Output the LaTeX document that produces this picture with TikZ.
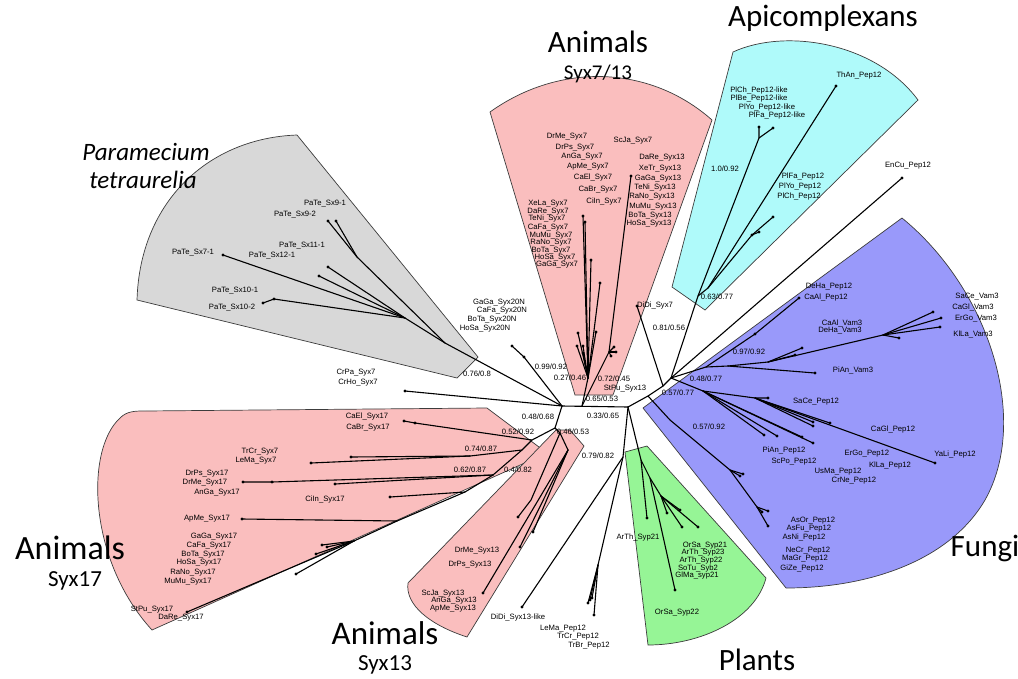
\documentclass[tikz,border=0pt]{standalone}
\usepackage{fontspec}
\setmainfont{Liberation Sans}
\newfontfamily\titlefont{Carlito}
\definecolor{pinkfill}{RGB}{250,190,190}
\definecolor{cyanfill}{RGB}{175,250,250}
\definecolor{grayfill}{RGB}{216,216,216}
\definecolor{bluefill}{RGB}{153,153,250}
\definecolor{greenfill}{RGB}{150,245,150}
\definecolor{edgegray}{RGB}{60,60,60}
\begin{document}
\begin{tikzpicture}[x=1pt,y=-1pt,
  branch/.style={line width=1.1pt, line cap=round, line join=round},
  region/.style={draw=edgegray, line width=0.7pt},
  lbl/.style={font=\fontsize{7.7}{9}\selectfont, inner sep=0pt},
  bigtitle/.style={font=\titlefont\fontsize{31}{36}\selectfont, inner sep=0pt},
  subtitle/.style={font=\titlefont\fontsize{21}{24}\selectfont, inner sep=0pt},
  ittitle/.style={font=\titlefont\itshape\fontsize{25}{28}\selectfont, inner sep=0pt}]
\useasboundingbox (0,0) rectangle (1018,678);

% ---------- clade backgrounds ----------
\filldraw[region, fill=grayfill] (137,300) -- (457,378) -- (478,357) -- (297,135)
  .. controls (210,138) and (140,200) .. (137,300) -- cycle;
\filldraw[region, fill=pinkfill] (575,395) -- (490,112)
  .. controls (560,62) and (650,65) .. (712,120) -- (613,395) -- cycle;
\filldraw[region, fill=cyanfill] (672,287) -- (733,52)
  .. controls (785,28) and (875,42) .. (918,100) -- (705,310) -- cycle;
\filldraw[region, fill=bluefill] (643,408) -- (902,218)
  .. controls (990,290) and (1030,420) .. (985,500)
  .. controls (950,560) and (870,588) .. (786,588) -- cycle;
\filldraw[region, fill=greenfill] (625,452) -- (647,446) -- (766,578)
  .. controls (755,620) and (700,645) .. (648,645) -- cycle;
\filldraw[region, fill=pinkfill] (487,408) -- (547,453) -- (152,630)
  .. controls (88,560) and (85,450) .. (120,418)
  .. controls (127,411) and (135,411) .. (145,411) -- cycle;
\filldraw[region, fill=pinkfill] (556,430) -- (570,430) -- (584,446) -- (467,637)
  .. controls (430,625) and (405,605) .. (408,583) -- cycle;

% ---------- tree nodes ----------
% backbone
\coordinate (A) at (562,406);  \coordinate (P7) at (582,406);
\coordinate (C) at (628,407);  \coordinate (D) at (555,428);
\coordinate (Q) at (648,396);  \coordinate (E) at (663,386);
\coordinate (F) at (671,378);
% Paramecium
\coordinate (G) at (445,343);  \coordinate (H) at (405,318);
\coordinate (pS71) at (223,255); \coordinate (pS10a) at (274,299);
\coordinate (pS10b) at (263,303); \coordinate (pS11) at (328,267);
\coordinate (pS12) at (319,276); \coordinate (N9) at (357,257);
\coordinate (pS92) at (328,221); \coordinate (pS91) at (336,221);
% Syx20N and CrPa
\coordinate (Z1) at (524,357); \coordinate (z20) at (512,346);
\coordinate (cr) at (405,391);
% Syx7
\coordinate (S7) at (588,378);
\coordinate (t1) at (583,216); \coordinate (t2) at (585,222);
\coordinate (t3) at (591,260); \coordinate (t4) at (600,283);
\coordinate (t5) at (596,332);
\coordinate (c1) at (578,333); \coordinate (c2) at (577,346);
\coordinate (c3) at (583,346); \coordinate (c4) at (583,353);
% Syx13
\coordinate (S13) at (609,352); \coordinate (u1) at (631,176);
\coordinate (u2) at (614,347); \coordinate (u3) at (616,352);
\coordinate (u4) at (611,356);
% DiDi Syx7
\coordinate (dd7) at (637,306);
% Apicomplexa
\coordinate (Ap0) at (698,296); \coordinate (Ap1) at (708,288);
\coordinate (Ap2) at (759,138); \coordinate (ap21) at (759,127);
\coordinate (ap22) at (773,128); \coordinate (than) at (836,86);
\coordinate (Ap3) at (752,235); \coordinate (ap31) at (759,232);
\coordinate (ap32) at (773,217);
\coordinate (encu) at (902,178);
% Fungi, Vam3 side
\coordinate (U1) at (706,367); \coordinate (U2) at (755,334);
\coordinate (cal) at (799,298); \coordinate (U3) at (728,366);
\coordinate (pianv) at (815,373); \coordinate (U4) at (768,362);
\coordinate (v1) at (802,348); \coordinate (v2) at (795,355);
\coordinate (U5) at (883,335); \coordinate (v3) at (933,312);
\coordinate (v4) at (941,318); \coordinate (v5) at (940,327);
\coordinate (v6) at (899,338);
% Fungi, Pep12 side
\coordinate (L1) at (703,391); \coordinate (L2) at (755,398);
\coordinate (sace) at (768,398); \coordinate (f1) at (830,423);
\coordinate (f2) at (813,422); \coordinate (f3) at (813,426);
\coordinate (yali) at (935,463);
\coordinate (g1) at (764,435); \coordinate (g2) at (777,436);
\coordinate (g3) at (813,443); \coordinate (g4) at (802,437);
\coordinate (A1) at (670,420); \coordinate (A2) at (730,470);
\coordinate (a1) at (740,476); \coordinate (a2) at (743,474);
\coordinate (A3) at (757,507); \coordinate (a3) at (768,511);
\coordinate (a4) at (762,512); \coordinate (a5) at (768,526);
% Plants
\coordinate (Pl0) at (641,460); \coordinate (arth21) at (647,518);
\coordinate (Pl1) at (650,478); \coordinate (orsa22) at (675,590);
\coordinate (Pl2) at (661,496); \coordinate (pl1) at (667,513);
\coordinate (pl2) at (680,510); \coordinate (pl3) at (682,527);
\coordinate (pl4) at (698,527);
% DiDi Syx13-like and Pep12 of trypanosomatids
\coordinate (M) at (623,457); \coordinate (dd13) at (522,607);
\coordinate (L0) at (598,565); \coordinate (lm1) at (588,603);
\coordinate (lm2) at (590,600); \coordinate (lm3) at (592,598);
\coordinate (lm4) at (594,615);
% Syx13
\coordinate (Y0) at (560,433); \coordinate (Y01) at (531,500);
\coordinate (s131) at (518,517); \coordinate (Y1) at (568,450);
\coordinate (s132) at (520,547); \coordinate (s133) at (533,532);
\coordinate (s134) at (483,593);
% Syx17
\coordinate (X0) at (532,440); \coordinate (ce1) at (415,423);
\coordinate (ce2) at (404,421); \coordinate (X1) at (522,450);
\coordinate (T1) at (470,456); \coordinate (tr1) at (351,457);
\coordinate (tr2) at (311,463); \coordinate (Dg1) at (493,475);
\coordinate (Dg2) at (465,492); \coordinate (Dg3) at (397,521);
\coordinate (Dg4) at (354,541); \coordinate (stpu) at (187,612);
\coordinate (dr1) at (272,482); \coordinate (dr2) at (243,482);
\coordinate (ang) at (335,484); \coordinate (ciin) at (390,497);
\coordinate (apme) at (242,519);
\coordinate (m1) at (322,545); \coordinate (m2) at (327,547);
\coordinate (m3) at (316,554); \coordinate (m4) at (296,574);

% ---------- branches ----------
\draw[branch] (A) -- (C);
\draw[branch] (A) -- (D);
\draw[branch] (C) -- (Q) -- (E) -- (F);
\draw[branch] (A) -- (G);
\draw[branch] (G) -- (H) -- (pS71);
\draw[branch] (H) -- (pS10a) -- (pS10b);
\draw[branch] (H) -- (pS11);
\draw[branch] (H) -- (pS12);
\draw[branch] (G) -- (N9) -- (pS92);
\draw[branch] (N9) -- (pS91);
\draw[branch] (A) -- (Z1) -- (z20);
\draw[branch] (A) -- (cr);
\draw[branch] (P7) -- (S7);
\foreach \t in {t1,t2,t3,t4,t5,c1,c2,c3,c4} \draw[branch] (S7) -- (\t);
\draw[branch] (P7) -- (S13) -- (u1);
\foreach \t in {u2,u3,u4} \draw[branch] (S13) -- (\t);
\draw[branch] (E) -- (dd7);
\draw[branch] (F) -- (Ap0) -- (Ap2) -- (ap21);
\draw[branch] (Ap2) -- (ap22);
\draw[branch] (Ap0) -- (Ap1) -- (than);
\draw[branch] (Ap1) -- (Ap3) -- (ap32);
\draw[branch] (Ap3) -- (ap31);
\draw[branch] (F) -- (encu);
\draw[branch] (F) -- (U1) -- (U2) -- (cal);
\draw[branch] (U1) -- (U3) -- (pianv);
\draw[branch] (U3) -- (U4) -- (v1);
\draw[branch] (U4) -- (v2);
\draw[branch] (U4) -- (U5);
\foreach \t in {v3,v4,v5,v6} \draw[branch] (U5) -- (\t);
\draw[branch] (F) -- (L1) -- (L2) -- (sace);
\foreach \t in {f1,f2,f3,yali} \draw[branch] (L2) -- (\t);
\foreach \t in {g1,g2,g3,g4} \draw[branch] (L1) -- (\t);
\draw[branch] (Q) -- (A1) -- (A2) -- (a1);
\draw[branch] (A2) -- (a2);
\draw[branch] (A2) -- (A3);
\foreach \t in {a3,a4,a5} \draw[branch] (A3) -- (\t);
\draw[branch] (C) -- (Pl0) -- (arth21);
\draw[branch] (Pl0) -- (Pl1) -- (orsa22);
\draw[branch] (Pl1) -- (Pl2);
\foreach \t in {pl1,pl2,pl3,pl4} \draw[branch] (Pl2) -- (\t);
\draw[branch] (C) -- (M) -- (dd13);
\draw[branch] (M) -- (L0);
\foreach \t in {lm1,lm2,lm3,lm4} \draw[branch] (L0) -- (\t);
\draw[branch] (D) -- (Y0) -- (Y01) -- (s131);
\draw[branch] (Y0) -- (Y1);
\foreach \t in {s132,s133,s134} \draw[branch] (Y1) -- (\t);
\draw[branch] (D) -- (X0) -- (ce1) -- (ce2);
\draw[branch] (X0) -- (X1) -- (T1) -- (tr1);
\draw[branch] (T1) -- (tr2);
\draw[branch] (X1) -- (Dg1) -- (Dg2) -- (Dg3) -- (Dg4) -- (stpu);
\draw[branch] (Dg1) -- (dr1) -- (dr2);
\draw[branch] (Dg1) -- (ang);
\draw[branch] (Dg2) -- (ciin);
\draw[branch] (Dg3) -- (apme);
\foreach \t in {m1,m2,m3,m4} \draw[branch] (Dg4) -- (\t);

% ---------- leaf dots ----------
\foreach \t in {pS71,pS10a,pS10b,pS11,pS12,pS92,pS91,z20,Z1,cr,
  t1,t2,t3,t4,t5,c1,c2,c3,c4,u1,u2,u3,u4,dd7,ap21,ap22,than,Ap3,ap31,ap32,
  encu,cal,U2,pianv,v1,v2,v3,v4,v5,v6,sace,f1,f2,f3,yali,g1,g2,g3,g4,
  a1,a2,a3,a4,a5,arth21,orsa22,pl1,pl2,pl3,pl4,dd13,lm1,lm2,lm3,lm4,
  s131,s132,s133,s134,ce1,ce2,tr1,tr2,dr1,dr2,ang,ciin,apme,stpu,m1,m2,m3,m4}
  \fill (\t) circle (1.7);

% ---------- clade titles ----------
\node[bigtitle] (ttop) at (598,42) {Animals};
\node[subtitle] (ttopsub) at (598,74) {Syx7/13};
\node[bigtitle] (tapi) at (823,18) {Apicomplexans};
\node[ittitle] (tpar1) at (146,152) {Paramecium};
\node[ittitle] (tpar2) at (143,180) {tetraurelia};
\node[bigtitle, font=\titlefont\fontsize{34}{38}\selectfont] (tleft) at (70,548) {Animals};
\node[subtitle, font=\titlefont\fontsize{23}{26}\selectfont] (tleftsub) at (75,581) {Syx17};
\node[bigtitle, font=\titlefont\fontsize{33}{38}\selectfont] (tbot) at (385,633) {Animals};
\node[subtitle, font=\titlefont\fontsize{23}{26}\selectfont] (tbotsub) at (385,665) {Syx13};
\node[bigtitle] (tpla) at (757,660) {Plants};
\node[bigtitle] (tfun) at (985,548) {Fungi};

% ---------- leaf labels ----------
% Paramecium
\node[lbl] (n1) at (325,204) {PaTe\_Sx9-1};
\node[lbl] (n2) at (295,215) {PaTe\_Sx9-2};
\node[lbl] (n3) at (302,246) {PaTe\_Sx11-1};
\node[lbl] (n4) at (272,256) {PaTe\_Sx12-1};
\node[lbl] (n5) at (193,253) {PaTe\_Sx7-1};
\node[lbl] (n6) at (235,291) {PaTe\_Sx10-1};
\node[lbl] (n7) at (232,308) {PaTe\_Sx10-2};
% Syx20N, CrPa
\node[lbl] (n8) at (499,303) {GaGa\_Syx20N};
\node[lbl] (n9) at (502,311) {CaFa\_Syx20N};
\node[lbl] (n10) at (492,320) {BoTa\_Syx20N};
\node[lbl] (n11) at (485,329) {HoSa\_Syx20N};
\node[lbl] (n12) at (356,373) {CrPa\_Syx7};
\node[lbl] (n13) at (358,383) {CrHo\_Syx7};
% Syx7
\node[lbl] (n14) at (567,137) {DrMe\_Syx7};
\node[lbl] (n15) at (575,148) {DrPs\_Syx7};
\node[lbl] (n16) at (582,157) {AnGa\_Syx7};
\node[lbl] (n17) at (588,167) {ApMe\_Syx7};
\node[lbl] (n18) at (593,178) {CaEl\_Syx7};
\node[lbl] (n19) at (598,190) {CaBr\_Syx7};
\node[lbl] (n20) at (604,202) {CiIn\_Syx7};
\node[lbl] (n21) at (633,141) {ScJa\_Syx7};
\node[lbl] (n22) at (548,204) {XeLa\_Syx7};
\node[lbl] (n23) at (548,212) {DaRe\_Syx7};
\node[lbl] (n24) at (547,219) {TeNi\_Syx7};
\node[lbl] (n25) at (548,228) {CaFa\_Syx7};
\node[lbl] (n26) at (551,236) {MuMu\_Syx7};
\node[lbl] (n27) at (551,243) {RaNo\_Syx7};
\node[lbl] (n28) at (551,251) {BoTa\_Syx7};
\node[lbl] (n29) at (555,258) {HoSa\_Syx7};
\node[lbl] (n30) at (557,265) {GaGa\_Syx7};
% Syx13 (top)
\node[lbl] (n31) at (662,158) {DaRe\_Syx13};
\node[lbl] (n32) at (660,169) {XeTr\_Syx13};
\node[lbl] (n33) at (658,179) {GaGa\_Syx13};
\node[lbl] (n34) at (655,188) {TeNi\_Syx13};
\node[lbl] (n35) at (652,197) {RaNo\_Syx13};
\node[lbl] (n36) at (653,207) {MuMu\_Syx13};
\node[lbl] (n37) at (650,216) {BoTa\_Syx13};
\node[lbl] (n38) at (649,224) {HoSa\_Syx13};
\node[lbl] (n39) at (625,389) {StPu\_Syx13};
\node[lbl] (n40) at (655,306) {DiDi\_Syx7};
% Apicomplexa
\node[lbl] (n41) at (759,91) {PlCh\_Pep12-like};
\node[lbl] (n42) at (759,99) {PlBe\_Pep12-like};
\node[lbl] (n43) at (767,108) {PlYo\_Pep12-like};
\node[lbl] (n44) at (777,116) {PlFa\_Pep12-like};
\node[lbl] (n45) at (859,76) {ThAn\_Pep12};
\node[lbl] (n46) at (803,177) {PlFa\_Pep12};
\node[lbl] (n47) at (800,187) {PlYo\_Pep12};
\node[lbl] (n48) at (799,197) {PlCh\_Pep12};
\node[lbl] (n49) at (908,166) {EnCu\_Pep12};
% Fungi
\node[lbl] (n50) at (829,287) {DeHa\_Pep12};
\node[lbl] (n51) at (826,298) {CaAl\_Pep12};
\node[lbl] (n52) at (977,297) {SaCe\_Vam3};
\node[lbl] (n53) at (973,307) {CaGl\_Vam3};
\node[lbl] (n54) at (976,319) {ErGo\_Vam3};
\node[lbl] (n55) at (973,334) {KlLa\_Vam3};
\node[lbl] (n56) at (842,323) {CaAl\_Vam3};
\node[lbl] (n57) at (840,331) {DeHa\_Vam3};
\node[lbl] (n58) at (853,370) {PiAn\_Vam3};
\node[lbl] (n59) at (816,402) {SaCe\_Pep12};
\node[lbl] (n60) at (893,430) {CaGl\_Pep12};
\node[lbl] (n61) at (784,451) {PiAn\_Pep12};
\node[lbl] (n62) at (794,462) {ScPo\_Pep12};
\node[lbl] (n63) at (867,454) {ErGo\_Pep12};
\node[lbl] (n64) at (890,466) {KlLa\_Pep12};
\node[lbl] (n65) at (838,472) {UsMa\_Pep12};
\node[lbl] (n66) at (854,481) {CrNe\_Pep12};
\node[lbl] (n67) at (955,455) {YaLi\_Pep12};
\node[lbl] (n68) at (813,521) {AsOr\_Pep12};
\node[lbl] (n69) at (809,529) {AsFu\_Pep12};
\node[lbl] (n70) at (804,538) {AsNi\_Pep12};
\node[lbl] (n71) at (808,551) {NeCr\_Pep12};
\node[lbl] (n72) at (805,559) {MaGr\_Pep12};
\node[lbl] (n73) at (802,569) {GiZe\_Pep12};
% Plants
\node[lbl] (n74) at (638,538) {ArTh\_Syp21};
\node[lbl] (n75) at (705,546) {OrSa\_Syp21};
\node[lbl] (n76) at (703,553) {ArTh\_Syp23};
\node[lbl] (n77) at (701,561) {ArTh\_Syp22};
\node[lbl] (n78) at (698,569) {SoTu\_Syb2};
\node[lbl] (n79) at (697,576) {GlMa\_syp21};
\node[lbl] (n80) at (677,613) {OrSa\_Syp22};
% bottom
\node[lbl] (n81) at (518,618) {DiDi\_Syx13-like};
\node[lbl] (n82) at (563,629) {LeMa\_Pep12};
\node[lbl] (n83) at (578,637) {TrCr\_Pep12};
\node[lbl] (n84) at (589,646) {TrBr\_Pep12};
\node[lbl] (n85) at (477,551) {DrMe\_Syx13};
\node[lbl] (n86) at (470,565) {DrPs\_Syx13};
\node[lbl] (n87) at (443,594) {ScJa\_Syx13};
\node[lbl] (n88) at (454,601) {AnGa\_Syx13};
\node[lbl] (n89) at (453,609) {ApMe\_Syx13};
% Syx17
\node[lbl] (n90) at (367,417) {CaEl\_Syx17};
\node[lbl] (n91) at (368,428) {CaBr\_Syx17};
\node[lbl] (n92) at (260,452) {TrCr\_Syx7};
\node[lbl] (n93) at (256,461) {LeMa\_Syx7};
\node[lbl] (n94) at (207,474) {DrPs\_Syx17};
\node[lbl] (n95) at (205,483) {DrMe\_Syx17};
\node[lbl] (n96) at (217,493) {AnGa\_Syx17};
\node[lbl] (n97) at (325,500) {CiIn\_Syx17};
\node[lbl] (n98) at (207,519) {ApMe\_Syx17};
\node[lbl] (n99) at (214,537) {GaGa\_Syx17};
\node[lbl] (n100) at (209,546) {CaFa\_Syx17};
\node[lbl] (n101) at (203,555) {BoTa\_Syx17};
\node[lbl] (n102) at (199,563) {HoSa\_Syx17};
\node[lbl] (n103) at (193,573) {RaNo\_Syx17};
\node[lbl] (n104) at (188,582) {MuMu\_Syx17};
\node[lbl] (n105) at (152,610) {StPu\_Syx17};
\node[lbl] (n106) at (181,618) {DaRe\_Syx17};

% ---------- support values ----------
\node[lbl] (b1) at (477,374) {0.76/0.8};
\node[lbl] (b2) at (551,367) {0.99/0.92};
\node[lbl] (b3) at (570,378) {0.27/0.46};
\node[lbl] (b4) at (614,379) {0.72/0.45};
\node[lbl] (b5) at (602,399) {0.65/0.53};
\node[lbl] (b6) at (538,417) {0.48/0.68};
\node[lbl] (b7) at (603,416) {0.33/0.65};
\node[lbl] (b8) at (573,432) {0.46/0.53};
\node[lbl] (b9) at (518,432) {0.52/0.92};
\node[lbl] (b10) at (481,449) {0.74/0.87};
\node[lbl] (b11) at (470,470) {0.62/0.87};
\node[lbl] (b12) at (518,470) {0.4/0.82};
\node[lbl] (b13) at (598,456) {0.79/0.82};
\node[lbl] (b14) at (669,328) {0.81/0.56};
\node[lbl] (b15) at (678,393) {0.57/0.77};
\node[lbl] (b16) at (706,379) {0.48/0.77};
\node[lbl] (b17) at (749,352) {0.97/0.92};
\node[lbl] (b18) at (717,297) {0.63/0.77};
\node[lbl] (b19) at (725,169) {1.0/0.92};
\node[lbl] (b20) at (709,427) {0.57/0.92};
\end{tikzpicture}
\end{document}
